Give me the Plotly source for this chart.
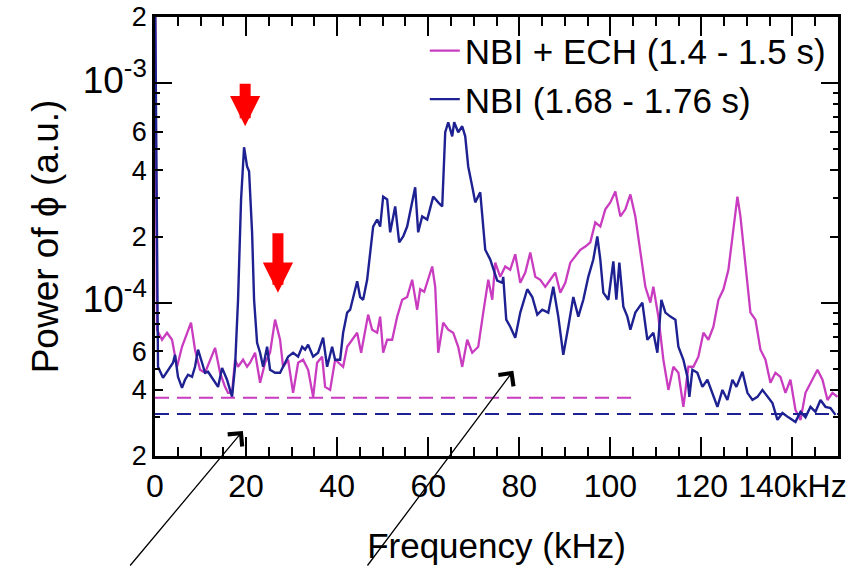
import numpy as np
import plotly.graph_objects as go

# ---------------- data (frequency in kHz, power in units of 1e-5 a.u.) ----------------
freq_ech = [0, 0.44, 1.54, 2.64, 3.74, 4.84, 5.93, 7.03, 7.91, 8.79,
            9.89, 10.99, 12.09, 13.19, 14.29, 15.38, 16.04, 16.92, 17.58, 18.24,
            19.34, 20.22, 20.88, 21.98, 23.08, 24.18, 25.27, 26.37, 27.47, 28.13,
            29.23, 30.33, 31.43, 32.53, 33.63, 34.73, 35.60, 36.70, 37.36, 38.46,
            39.56, 40.22, 41.32, 42.20, 43.30, 44.40, 45.27, 46.15, 46.81, 47.69,
            48.79, 49.45, 50.11, 50.99, 52.09, 53.19, 54.29, 55.38, 56.48, 57.58,
            58.24, 59.12, 59.78, 60.88, 61.54, 62.20, 63.30, 64.40, 65.49, 66.59,
            67.47, 68.57, 69.67, 70.99, 72.09, 73.19, 74.07, 74.73, 75.82, 76.92,
            78.02, 79.12, 80.22, 81.32, 82.42, 83.52, 84.62, 85.71, 86.81, 87.91,
            89.01, 90.11, 91.21, 92.31, 93.41, 94.51, 95.60, 96.70, 97.80, 98.90,
            100.0, 101.10, 102.20, 103.30, 104.40, 105.49, 106.59, 107.69, 108.79, 109.45,
            110.55, 111.65, 112.75, 113.85, 114.95, 116.04, 117.14, 118.24, 119.34, 120.44,
            121.54, 122.64, 123.74, 124.84, 125.93, 126.81, 127.47, 127.91, 128.57, 129.23,
            130.11, 130.77, 131.87, 132.97, 134.07, 135.16, 136.26, 137.36, 138.46, 139.56,
            140.66, 141.76, 142.86, 143.96, 145.49, 146.59, 147.69, 148.79, 149.89]
power_ech = [300, 7.52, 6.77, 7.29, 6.77, 5.10, 6.29, 7.29, 8.10, 6.10,
             4.94, 4.79, 5.49, 6.22, 4.79, 4.13, 3.88, 3.88, 5.49, 5.10,
             5.49, 5.10, 5.32, 5.91, 4.31, 5.32, 5.91, 8.36, 6.77, 5.10,
             5.49, 3.88, 5.32, 5.49, 4.94, 3.72, 5.32, 5.67, 4.13, 4.0,
             5.49, 5.32, 5.10, 6.29, 6.77, 7.29, 5.91, 7.52, 8.81, 7.52,
             7.29, 8.63, 5.91, 6.77, 6.77, 8.63, 10.3, 10.6, 12.7, 9.28,
             11.5, 11.2, 12.5, 14.6, 11.8, 5.91, 8.10, 7.52, 7.29, 6.29,
             5.10, 6.77, 5.91, 6.29, 9.0, 12.7, 10.3, 15.2, 13.1, 14.6,
             14.1, 16.6, 12.3, 13.7, 16.9, 13.1, 12.7, 11.8, 12.7, 13.7,
             11.1, 12.3, 15.2, 16.2, 17.4, 18.0, 18.8, 23.2, 22.2, 26.6,
             28.6, 32.1, 24.7, 26.6, 31.1, 24.7, 16.9, 11.8, 10.0, 11.8,
             8.63, 5.49, 4.0, 5.10, 4.79, 3.35, 5.10, 5.10, 5.67, 7.29,
             6.77, 7.76, 10.3, 11.5, 14.1, 19.4, 24.7, 30.4, 24.7, 18.0,
             11.8, 9.0, 8.36, 6.10, 5.49, 4.31, 4.79, 4.59, 3.88, 4.45,
             3.24, 2.92, 3.88, 4.31, 4.94, 4.45, 3.60, 3.88, 3.72]

freq_nbi = [0, 0.66, 1.76, 2.86, 3.96, 4.40, 5.05, 5.93, 6.59, 7.25,
            8.13, 8.79, 9.45, 10.33, 10.99, 11.65, 12.75, 13.85, 14.73, 15.82,
            16.92, 17.58, 18.24, 18.90, 19.56, 20.22, 20.66, 21.32, 21.76, 22.42,
            23.08, 23.74, 24.62, 25.27, 26.37, 27.47, 28.13, 29.23, 30.33, 31.43,
            32.31, 32.97, 33.63, 34.73, 35.82, 36.92, 37.80, 38.90, 39.56, 40.66,
            41.32, 42.20, 42.86, 43.52, 44.40, 45.05, 45.71, 46.59, 47.25, 47.91,
            48.79, 49.45, 50.11, 50.99, 51.65, 52.75, 53.63, 54.51, 55.38, 56.04,
            57.14, 57.80, 58.68, 59.78, 61.10, 62.20, 63.08, 63.74, 64.40, 65.27,
            65.71, 66.59, 67.47, 68.13, 68.79, 69.67, 70.33, 71.43, 72.53, 73.63,
            75.16, 76.26, 76.48, 77.14, 78.02, 79.12, 80.22, 81.76, 82.86, 83.96,
            85.05, 86.37, 87.47, 88.57, 89.67, 90.77, 91.87, 92.97, 94.07, 95.16,
            96.26, 97.14, 97.80, 98.46, 99.56, 100.66, 101.32, 101.98, 102.86, 103.74,
            104.40, 105.49, 107.03, 108.13, 109.45, 110.33, 111.21, 112.09, 113.19, 114.29,
            114.95, 116.04, 116.92, 117.36, 118.02, 119.12, 120.22, 121.32, 122.42, 123.52,
            124.62, 125.71, 126.81, 127.69, 129.01, 130.11, 131.21, 132.31, 133.41, 134.51,
            135.60, 136.70, 137.80, 139.12, 140.66, 141.76, 142.86, 143.96, 145.05, 146.15,
            147.25, 148.35, 149.45]
power_nbi = [300, 5.10, 4.54, 4.94, 5.32, 5.78, 4.59, 4.09, 4.45, 4.69,
             4.59, 5.10, 6.10, 5.32, 4.79, 4.84, 4.45, 4.13, 5.04, 4.45,
             3.72, 5.10, 10.3, 29.5, 51.0, 41.7, 39.6, 20.9, 10.3, 6.56,
             5.91, 5.10, 6.29, 4.94, 4.79, 4.79, 5.10, 5.67, 5.91, 5.67,
             6.29, 6.10, 6.43, 5.67, 5.91, 6.92, 5.10, 6.29, 5.49, 5.49,
             7.29, 9.0, 9.28, 10.6, 12.5, 10.6, 10.3, 12.7, 17.4, 22.2,
             23.9, 22.2, 30.4, 29.5, 20.9, 27.4, 18.8, 20.0, 22.2, 25.7,
             33.5, 20.9, 24.7, 23.9, 30.4, 28.6, 27.4, 59.7, 66.3, 57.2,
             66.3, 59.7, 63.6, 57.2, 41.7, 33.8, 28.6, 31.8, 17.4, 15.7,
             12.6, 12.3, 13.1, 8.36, 7.76, 6.92, 9.0, 11.5, 10.6, 8.81,
             9.28, 9.0, 11.8, 8.63, 5.78, 7.76, 10.6, 8.63, 10.3, 13.1,
             15.7, 20.0, 15.7, 11.1, 10.3, 15.4, 10.3, 15.2, 9.58, 8.63,
             7.52, 9.0, 10.0, 6.77, 7.29, 5.91, 10.3, 9.0, 8.63, 8.36,
             6.29, 5.49, 4.59, 3.72, 4.94, 4.79, 4.13, 4.45, 3.88, 3.35,
             4.0, 3.60, 4.45, 4.13, 4.84, 3.88, 3.60, 3.72, 4.0, 3.72,
             3.49, 2.92, 3.14, 3.0, 2.86, 3.18, 3.0, 3.35, 3.18, 3.60,
             3.35, 3.31, 3.08]

# noise floors (dashed)
noise_ech_freq = [0, 106]
noise_ech_level = 3.68
noise_nbi_freq = [0, 150]
noise_nbi_level = 3.11

UNIT = 1e-5

names = ["NBI + ECH (1.4 - 1.5 s)", "NBI (1.68 - 1.76 s)"]
col_ech = "#c93cc0"
col_nbi = "#1e2191"

x_tickvals = [0, 20, 40, 60, 80, 100, 120, 140]
x_ticktext = ["0", "20", "40", "60", "80", "100", "120", "140kHz"]

DEC = '<span style="font-size:37px">10<sup>%s</sup></span>'
y_tickvals = [2e-5, 4e-5, 6e-5, 1e-4, 2e-4, 4e-4, 6e-4, 1e-3, 2e-3]
y_ticktext = ["2", "4", "6", DEC % "-4", "2", "4", "6", DEC % "-3", "2"]
y_minorvals = [3e-5, 5e-5, 7e-5, 8e-5, 9e-5, 3e-4, 5e-4, 7e-4, 8e-4, 9e-4]
y_decades = [1e-4, 1e-3]

# arrow annotations: (freq, power in 1e-5 units)
red_arrows = [(19.8, 63.6, -44), (27.0, 11.1, -61)]
black_arrows = [(19.3, 2.6, -114, 140), (78.7, 4.89, -147, 200)]

FONT = "Liberation Sans, Arial, sans-serif"

fig = go.Figure()
fig.add_trace(go.Scatter(x=freq_ech, y=np.array(power_ech) * UNIT, mode="lines",
                         name=names[0], line=dict(color=col_ech, width=2.3)))
fig.add_trace(go.Scatter(x=freq_nbi, y=np.array(power_nbi) * UNIT, mode="lines",
                         name=names[1], line=dict(color=col_nbi, width=2.4)))
fig.add_trace(go.Scatter(x=noise_ech_freq, y=[noise_ech_level * UNIT] * 2, mode="lines",
                         showlegend=False, line=dict(color=col_ech, width=2, dash="14px,8px")))
fig.add_trace(go.Scatter(x=noise_nbi_freq, y=[noise_nbi_level * UNIT] * 2, mode="lines",
                         showlegend=False, line=dict(color=col_nbi, width=2, dash="14px,8px")))
fig.add_trace(go.Scatter(x=[None], y=[None], yaxis="y2", showlegend=False,
                         hoverinfo="skip", mode="lines"))

yrange = [np.log10(2e-5), np.log10(2e-3)]

for fx, fy, ay in red_arrows:
    fig.add_annotation(x=fx, y=np.log10(fy * UNIT), xref="x", yref="y", text="",
                       showarrow=True, ax=0, ay=ay, arrowhead=2, arrowsize=0.55,
                       arrowwidth=11, arrowcolor="#ff0000", standoff=0)
for fx, fy, ax, ay in black_arrows:
    fig.add_annotation(x=fx, y=np.log10(fy * UNIT), xref="x", yref="y", text="",
                       showarrow=True, ax=ax, ay=ay, arrowhead=4, arrowsize=2.8,
                       arrowwidth=1.3, arrowcolor="black", standoff=0)

fig.update_layout(
    width=867, height=567,
    margin=dict(l=155, r=29, t=17, b=111),
    plot_bgcolor="white", paper_bgcolor="white",
    legend=dict(x=0.395, y=0.99, xanchor="left", yanchor="top",
                font=dict(family=FONT, size=35, color="black"),
                bgcolor="rgba(0,0,0,0)", tracegroupgap=0),
    xaxis=dict(range=[0, 150], tickmode="array", tickvals=x_tickvals, ticktext=x_ticktext,
               tickangle=0,
               ticks="inside", ticklen=19, tickwidth=2, tickcolor="black",
               showline=True, linewidth=2.5, linecolor="black", mirror="ticks",
               showgrid=False, zeroline=False, automargin=False,
               tickfont=dict(family=FONT, size=32, color="black"),
               minor=dict(dtick=5, tick0=0, ticks="inside", ticklen=9, tickwidth=2,
                          tickcolor="black", showgrid=False),
               title=dict(text="Frequency (kHz)", standoff=31,
                          font=dict(family=FONT, size=35, color="black"))),
    yaxis=dict(type="log", range=yrange, tickmode="array", tickvals=y_tickvals,
               ticktext=y_ticktext, ticks="inside", ticklen=8, tickwidth=2,
               tickcolor="black", showline=True, linewidth=2.5, linecolor="black",
               mirror="ticks", showgrid=False, zeroline=False, automargin=False,
               tickfont=dict(family=FONT, size=27, color="black"),
               minor=dict(tickmode="array", tickvals=y_minorvals, ticks="inside",
                          ticklen=5, tickwidth=2, tickcolor="black", showgrid=False),
               title=dict(text="Power of ϕ (a.u.)", standoff=13,
                          font=dict(family=FONT, size=37, color="black"))),
    yaxis2=dict(type="log", range=yrange, overlaying="y", side="left",
                tickmode="array", tickvals=y_decades, ticks="inside", ticklen=17,
                tickwidth=2, tickcolor="black", showticklabels=False, showline=False,
                mirror="ticks", showgrid=False, zeroline=False, automargin=False),
)

fig.write_html("out.html")
